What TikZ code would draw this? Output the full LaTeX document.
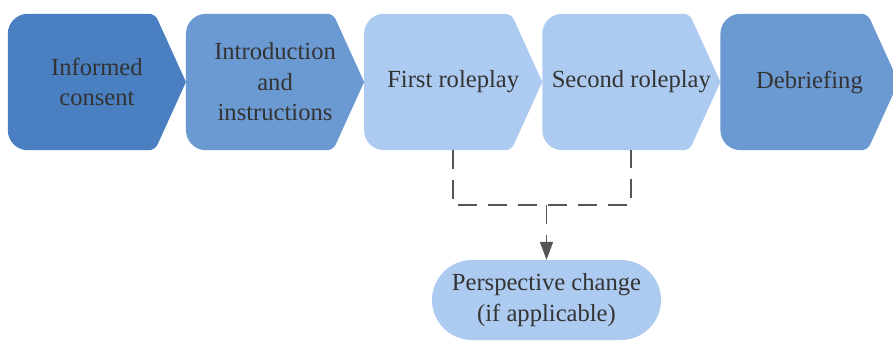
\documentclass[tikz,border=0pt]{standalone}
\usepackage{fontspec}
\setmainfont{LiberationSerif}[Extension=.ttf, UprightFont=*-Regular, BoldFont=*-Bold]
\usetikzlibrary{positioning,arrows.meta,backgrounds}
\definecolor{darkblue}{HTML}{4A7FC1}
\definecolor{midblue}{HTML}{6B9AD2}
\definecolor{lightblue}{HTML}{ADCBF0}
\definecolor{textgray}{HTML}{333333}
\definecolor{linegray}{HTML}{555555}
\tikzset{
  stage/.style={minimum width=177.75pt, minimum height=136pt, inner sep=0pt,
    align=center, text=textgray, font=\fontsize{24.6}{30.5}\selectfont},
  link/.style={linegray, line width=1.8pt, dash pattern=on 19pt off 11pt},
}
\begin{document}
\begin{tikzpicture}[x=1pt,y=-1pt,node distance=0pt]
    \useasboundingbox (0,0) rectangle (893,348);
    \node[stage] (consent) at (96.9,82) {Informed\\consent};
    \node[stage, right=of consent] (intro) {Introduction\\and\\instructions};
    \node[stage, right=of intro] (first) {First roleplay};
    \node[stage, right=of first] (second) {Second roleplay};
    \node[stage, right=of second] (debrief) {Debriefing};
    \node[stage, fill=lightblue, rounded corners=40pt, minimum width=229pt,
      minimum height=80pt] (change) at (546.5,300) {Perspective change\\(if applicable)};
    \begin{scope}[on background layer]
      \foreach \n/\c in {consent/darkblue, intro/midblue, first/lightblue,
          second/lightblue, debrief/midblue}
        \fill[\c] (\n.east) [rounded corners=6pt] -- ([xshift=-31pt]\n.north east)
          [rounded corners=20pt] -- (\n.north west) -- (\n.south west)
          [rounded corners=6pt] -- ([xshift=-31pt]\n.south east) [sharp corners] -- cycle;
    \end{scope}
    \draw[link] (first.south) -- ++(0,55) coordinate (join) -| (second.south);
    \draw[link, -{Triangle[length=18pt,width=13pt]}] (join -| change.north) -- (change.north);
  \end{tikzpicture}
\end{document}
